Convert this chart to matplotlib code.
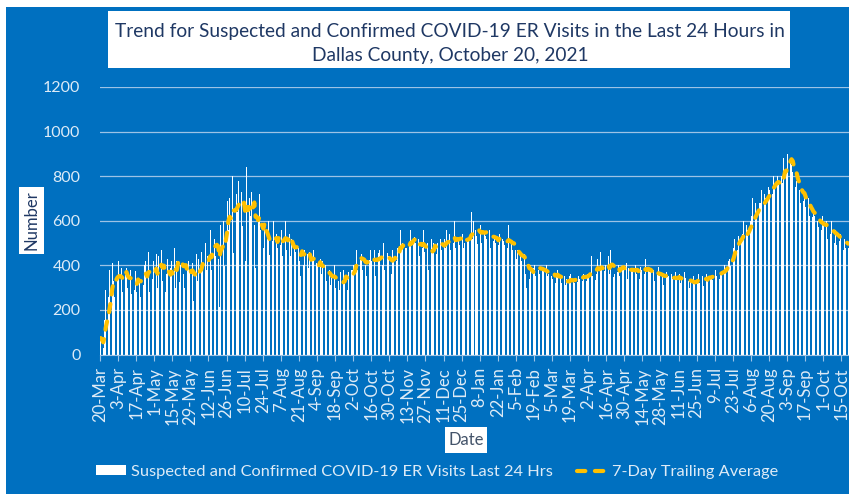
import pandas as pd
import matplotlib
matplotlib.use("Agg")
import matplotlib.pyplot as plt
from matplotlib.patches import Rectangle, Patch
from matplotlib.lines import Line2D

plt.rcParams['font.family'] = ['Lato', 'DejaVu Sans']

# daily suspected + confirmed ER visits, 20-Mar-2020 .. 20-Oct-2021 (one row = one week)
er_visits = [
    74, 60, 30, 155, 290, 280, 260,
    380, 300, 410, 330, 260, 400, 335,
    420, 310, 390, 280, 430, 370, 390,
    300, 250, 380, 270, 360, 290, 376,
    280, 400, 330, 260, 420, 311, 400,
    420, 310, 460, 280, 390, 338, 420,
    360, 450, 300, 440, 380, 470, 330,
    420, 280, 360, 430, 300, 387, 420,
    350, 480, 300, 420, 530, 327, 400,
    440, 360, 300, 450, 380, 420, 380,
    300, 410, 240, 380, 450, 331, 430,
    380, 460, 410, 330, 500, 378, 440,
    470, 560, 380, 600, 520, 444, 470,
    430, 213, 580, 680, 600, 395, 700,
    690, 560, 700, 620, 800, 455, 690,
    720, 640, 780, 600, 730, 577, 720,
    420, 843, 640, 700, 620, 730, 660,
    580, 390, 640, 600, 720, 560, 563,
    480, 560, 430, 520, 600, 445, 500,
    510, 600, 460, 540, 480, 581, 490,
    560, 440, 500, 600, 470, 523, 540,
    440, 520, 380, 500, 460, 531, 480,
    420, 350, 500, 400, 470, 476, 450,
    390, 460, 330, 430, 470, 408, 410,
    400, 350, 430, 360, 420, 398, 400,
    330, 290, 380, 310, 360, 380, 400,
    300, 240, 330, 290, 370, 360, 378,
    330, 390, 290, 370, 340, 378, 380,
    400, 460, 470, 380, 440, 424, 450,
    380, 440, 400, 350, 460, 426, 470,
    420, 380, 470, 350, 450, 456, 470,
    460, 400, 500, 380, 430, 456, 440,
    410, 360, 470, 420, 480, 418, 480,
    520, 560, 470, 500, 450, 478, 480,
    540, 500, 560, 480, 520, 526, 500,
    470, 520, 440, 500, 480, 560, 460,
    420, 500, 380, 480, 520, 476, 500,
    560, 450, 500, 480, 520, 468, 480,
    520, 480, 560, 500, 540, 470, 500,
    500, 600, 480, 540, 520, 490, 510,
    540, 480, 500, 560, 520, 510, 530,
    640, 520, 600, 560, 530, 496, 560,
    580, 500, 620, 540, 530, 520, 560,
    560, 480, 540, 510, 520, 500, 544,
    490, 540, 480, 520, 510, 490, 533,
    480, 580, 450, 500, 470, 480, 470,
    430, 470, 400, 450, 420, 460, 450,
    360, 300, 380, 340, 400, 420, 390,
    400, 350, 420, 380, 360, 395, 390,
    380, 330, 400, 350, 360, 385, 350,
    340, 370, 320, 360, 380, 330, 350,
    320, 300, 350, 310, 340, 326, 350,
    360, 300, 340, 320, 350, 325, 350,
    340, 380, 330, 360, 350, 330, 360,
    360, 420, 440, 350, 380, 336, 360,
    430, 380, 460, 390, 350, 376, 400,
    400, 440, 360, 470, 380, 348, 360,
    420, 370, 400, 350, 440, 384, 380,
    360, 410, 340, 390, 400, 380, 380,
    350, 400, 360, 380, 340, 394, 380,
    400, 360, 430, 350, 380, 370, 370,
    350, 380, 330, 370, 360, 394, 350,
    340, 360, 310, 350, 370, 349, 350,
    330, 360, 340, 310, 370, 341, 350,
    360, 320, 340, 300, 370, 343, 340,
    330, 300, 340, 280, 350, 325, 350,
    340, 360, 320, 330, 350, 309, 350,
    360, 330, 380, 340, 350, 333, 350,
    380, 350, 400, 340, 370, 366, 370,
    400, 380, 450, 420, 430, 399, 440,
    480, 520, 610, 470, 530, 481, 500,
    540, 600, 520, 580, 560, 548, 600,
    620, 700, 600, 680, 640, 630, 680,
    680, 740, 650, 720, 700, 688, 750,
    740, 820, 720, 800, 760, 757, 800,
    760, 780, 800, 770, 880, 960, 811,
    900, 870, 860, 850, 820, 760, 750,
    780, 700, 740, 680, 760, 688, 720,
    660, 600, 700, 620, 650, 617, 640,
    620, 560, 600, 570, 610, 557, 620,
    580, 540, 600, 520, 560, 541, 600,
    540, 500, 560, 490, 520, 511, 540,
    500, 470, 520, 480, 490, 479,
]

tick_labels = ['20-Mar', '3-Apr', '17-Apr', '1-May', '15-May', '29-May', '12-Jun',
               '26-Jun', '10-Jul', '24-Jul', '7-Aug', '21-Aug', '4-Sep', '18-Sep',
               '2-Oct', '16-Oct', '30-Oct', '13-Nov', '27-Nov', '11-Dec', '25-Dec',
               '8-Jan', '22-Jan', '5-Feb', '19-Feb', '5-Mar', '19-Mar', '2-Apr',
               '16-Apr', '30-Apr', '14-May', '28-May', '11-Jun', '25-Jun', '9-Jul',
               '23-Jul', '6-Aug', '20-Aug', '3-Sep', '17-Sep', '1-Oct', '15-Oct']
tick_step = 14

visits = pd.Series(er_visits)
avg7 = visits.rolling(7, min_periods=1).mean()
days = range(len(visits))

BLUE = '#0070C0'
LIGHT = '#DDEBF7'
GRID = '#9DC3E6'
NAVY = '#1F3864'
GOLD = '#FFC000'
DASH = (2.0, 2.3)
W, H = 849, 495


def fx(px):
    return px / W


def fy(py):
    return 1 - py / H


fig = plt.figure(figsize=(8.49, 4.95), dpi=100, facecolor='white')
fig.add_artist(Rectangle((fx(6), fy(494)), fx(849 - 6), (494 - 7) / H,
                         transform=fig.transFigure, facecolor=BLUE, edgecolor='none', zorder=0))

ax = fig.add_axes([fx(100), fy(354.5), fx(749), (354.5 - 87) / H])
ax.set_facecolor('none')
ax.bar(days, visits, width=0.55, color='white', linewidth=0, zorder=2)
ax.plot(days, avg7, color=GOLD, lw=3, dashes=DASH, dash_capstyle='round', zorder=3)

ax.set_xlim(-0.5, len(visits) - 0.5)
ax.set_ylim(0, 1200)
ax.set_yticks(range(0, 1201, 200))
ax.set_xticks([i * tick_step - 0.5 for i in range(len(tick_labels))])
ax.set_xticklabels(tick_labels, rotation=90)
ax.grid(axis='y', color=GRID, lw=0.9)
ax.set_axisbelow(True)
for side in ['top', 'right', 'left']:
    ax.spines[side].set_visible(False)
ax.spines['bottom'].set_color(GRID)
ax.tick_params(axis='x', length=4, color=GRID, labelcolor=LIGHT, labelsize=12, pad=5)
ax.tick_params(axis='y', length=0, labelcolor=LIGHT, labelsize=11.5, pad=14)

# title box
fig.add_artist(Rectangle((fx(108), fy(68)), fx(790 - 108), (68 - 11) / H,
                         transform=fig.transFigure, facecolor='white', edgecolor='none'))
fig.text(fx(450), fy(43), 'Trend for Suspected and Confirmed COVID-19 ER Visits in the Last 24 Hours in\n'
         'Dallas County, October 20, 2021', ha='center', va='center', fontsize=13.8,
         color=NAVY, linespacing=1.5)

# axis titles
fig.add_artist(Rectangle((fx(19), fy(254)), fx(25), (254 - 187) / H,
                         transform=fig.transFigure, facecolor='white', edgecolor='none'))
fig.text(fx(31.5), fy(220.5), 'Number', rotation=90, ha='center', va='center',
         fontsize=12, color=NAVY)
fig.add_artist(Rectangle((fx(445), fy(453)), fx(42), (453 - 427) / H,
                         transform=fig.transFigure, facecolor='white', edgecolor='none'))
fig.text(fx(466), fy(440), 'Date', ha='center', va='center', fontsize=12, color='#44546A')

handles = [Patch(facecolor='white', edgecolor='none'),
           Line2D([], [], color=GOLD, lw=3, dashes=DASH, dash_capstyle='round')]
fig.legend(handles, ['Suspected and Confirmed COVID-19 ER Visits Last 24 Hrs', '7-Day Trailing Average'],
           loc='center', bbox_to_anchor=(fx(437), fy(472)), ncol=2, frameon=False,
           fontsize=11.8, labelcolor=LIGHT, handlelength=1.8, handleheight=0.55,
           columnspacing=1.5, handletextpad=0.3)

fig.savefig('out.png', dpi=100, facecolor='white')
